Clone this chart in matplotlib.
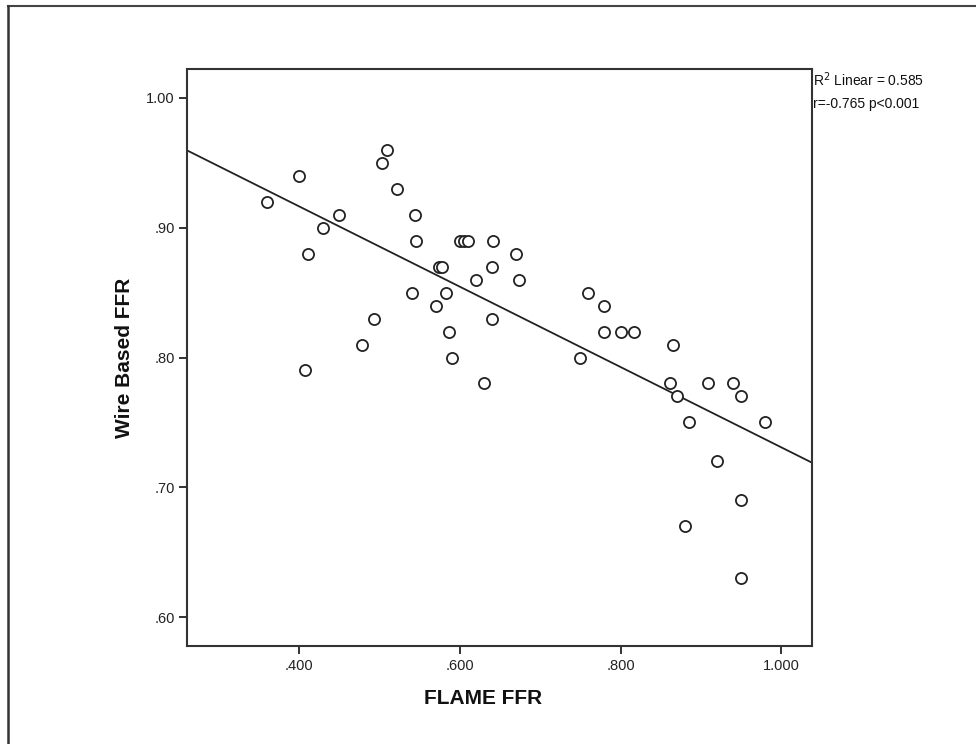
import numpy as np
import matplotlib
matplotlib.use("Agg")
import matplotlib.pyplot as plt
from matplotlib.lines import Line2D

plt.rcParams["font.family"] = ["Liberation Sans", "DejaVu Sans"]

# FLAME FFR (x) vs wire based FFR (y)
flame_ffr = [0.36, 0.40, 0.411, 0.43, 0.45, 0.408, 0.479, 0.493, 0.503, 0.51,
             0.522, 0.545, 0.546, 0.541, 0.57, 0.574, 0.578, 0.583, 0.587, 0.59,
             0.60, 0.605, 0.61, 0.62, 0.641, 0.64, 0.64, 0.63, 0.67, 0.674,
             0.75, 0.76, 0.78, 0.78, 0.80, 0.817, 0.865, 0.862, 0.87, 0.885,
             0.909, 0.94, 0.95, 0.98, 0.92, 0.95, 0.88, 0.95]
wire_ffr = [0.92, 0.94, 0.88, 0.90, 0.91, 0.79, 0.81, 0.83, 0.95, 0.96,
            0.93, 0.91, 0.89, 0.85, 0.84, 0.87, 0.87, 0.85, 0.82, 0.80,
            0.89, 0.89, 0.89, 0.86, 0.89, 0.87, 0.83, 0.78, 0.88, 0.86,
            0.80, 0.85, 0.84, 0.82, 0.82, 0.82, 0.81, 0.78, 0.77, 0.75,
            0.78, 0.78, 0.77, 0.75, 0.72, 0.69, 0.67, 0.63]

x_ticks = [0.4, 0.6, 0.8, 1.0]
x_tick_labels = [".400", ".600", ".800", "1.000"]
y_ticks = [0.6, 0.7, 0.8, 0.9, 1.0]
y_tick_labels = [".60", ".70", ".80", ".90", "1.00"]

fit_lines = ["R$^2$ Linear = 0.585", "r=-0.765 p<0.001"]

W, H = 976, 744
fig = plt.figure(figsize=(W / 100, H / 100), dpi=100)
ax = fig.add_axes([187 / W, 1 - 646 / H, (812 - 187) / W, (646 - 69) / H])

ax.plot(flame_ffr, wire_ffr, "o", ms=8, mfc="white", mec="#222222", mew=1.3, zorder=3)

# least squares fit line across the full x range
xmin, xmax = 0.261, 1.038
slope, intercept = np.polyfit(flame_ffr, wire_ffr, 1)
xs = np.array([xmin, xmax])
ax.plot(xs, slope * xs + intercept, color="#222222", lw=1.3, zorder=2)

ax.set_xlim(xmin, xmax)
ax.set_ylim(0.578, 1.022)
ax.set_xticks(x_ticks)
ax.set_xticklabels(x_tick_labels)
ax.set_yticks(y_ticks)
ax.set_yticklabels(y_tick_labels)
ax.tick_params(direction="out", length=6, width=1.3, colors="#222222",
               labelsize=10.5, labelcolor="#222222", pad=3)
for s in ax.spines.values():
    s.set_linewidth(1.5)
    s.set_color("#333333")

ax.set_xlabel("FLAME FFR", fontsize=15, fontweight="bold", color="#111111")
ax.xaxis.set_label_coords((483 - 187) / (812 - 187), -(689 - 646) / (646 - 69))
ax.set_ylabel("Wire Based FFR", fontsize=15, fontweight="bold", color="#111111")
ax.yaxis.set_label_coords(-(187 - 134) / (812 - 187), 0.5)

for i, t in enumerate(fit_lines):
    fig.text(813 / W, 1 - (80 + 24 * i) / H, t, fontsize=10, va="center", ha="left", color="#111111")

# outer frame (top and left edges visible)
fig.add_artist(Line2D([8 / W, 1.0], [1 - 6 / H, 1 - 6 / H], color="#444444", lw=1.5))
fig.add_artist(Line2D([8 / W, 8 / W], [0.0, 1 - 6 / H], color="#333333", lw=1.8))

fig.savefig("out.png", dpi=100)
